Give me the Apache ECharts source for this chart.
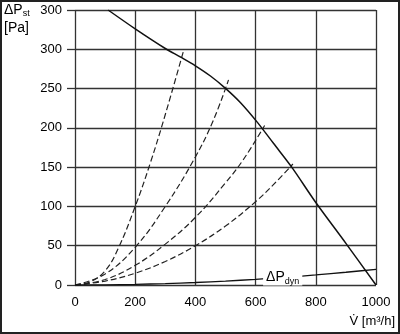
<!DOCTYPE html>
<html>
<head>
<meta charset="utf-8">
<script src="https://cdn.jsdelivr.net/npm/echarts@6/dist/echarts.min.js"></script>
<style>
  html, body { margin: 0; padding: 0; background: #fff; }
  #chart { width: 400px; height: 334px; }
</style>
</head>
<body>
<div id="chart"></div>
<script>
// Fan characteristic: static pressure vs. volume flow
var xTicks = [0, 200, 400, 600, 800, 1000];
var yTickLabels = ['0', '50', '100', '150', '200', '250', '300', '300'];

// Fan curve ΔPst [Pa] over V [m³/h]
var fanCurve = [[110, 350], [200, 326], [300, 301], [351, 290], [400, 279], [450, 266],
                [501, 250], [550, 232], [606, 207], [660, 180], [720, 150], [800, 105],
                [900, 53], [1000, 0]];

// System curves (dashed)
var system1 = [[0, 0], [50, 4], [100, 18], [143, 46], [200, 100], [250, 155], [300, 217], [362, 300]];
var system2 = [[0, 0], [100, 14], [200, 48], [300, 100], [400, 163], [460, 210], [510, 261]];
var system3 = [[0, 0], [100, 7], [200, 25], [300, 52], [400, 86], [500, 130], [560, 160], [630, 203]];
var system4 = [[0, 0], [100, 5], [200, 15], [300, 30], [400, 50], [500, 75], [600, 106], [660, 128], [724, 154]];

// Dynamic pressure
var dynCurve = [[0, 0], [100, 0.2], [200, 0.8], [300, 1.8], [400, 3.2], [500, 5], [600, 7.2],
                [690, 9.5], [800, 12.8], [900, 16.2], [1000, 20]];
var dynLabelX = 690;

var FONT = '"Liberation Sans", Arial, sans-serif';

function dashed(data) {
  return {
    type: 'line', data: data, smooth: 0.4, symbol: 'none', silent: true,
    lineStyle: { color: '#222', width: 1.2, type: [6, 3] }, z: 3
  };
}

var dynLabelPoint = dynCurve.filter(function (p) { return p[0] === dynLabelX; });

var chart = echarts.init(document.getElementById('chart'), null, { renderer: 'canvas' });
chart.setOption({
  animation: false,
  backgroundColor: '#fff',
  grid: { left: 75, right: 24, top: 10, bottom: 49 },
  xAxis: {
    type: 'value', min: 0, max: 1000, interval: 200,
    axisLine: { show: false },
    axisTick: { show: false },
    splitLine: { show: true, lineStyle: { color: '#333', width: 1.3 } },
    axisLabel: {
      margin: 11, color: '#000', fontFamily: FONT, fontSize: 13,
      formatter: function (v) { return xTicks.indexOf(v) >= 0 ? String(v) : ''; }
    }
  },
  yAxis: {
    type: 'value', min: 0, max: 350, interval: 50,
    axisLine: { show: false },
    axisTick: { show: true, length: 8, lineStyle: { color: '#333', width: 1.3 } },
    splitLine: { show: true, lineStyle: { color: '#333', width: 1.3 } },
    axisLabel: {
      margin: 13, color: '#000', fontFamily: FONT, fontSize: 13,
      formatter: function (v) { return yTickLabels[Math.round(v / 50)]; }
    }
  },
  series: [
    {
      type: 'line', data: fanCurve, smooth: 0.3, symbol: 'none', silent: true,
      lineStyle: { color: '#111', width: 1.5 }, z: 4
    },
    dashed(system1), dashed(system2), dashed(system3), dashed(system4),
    {
      type: 'line', data: dynCurve, smooth: 0.3, symbol: 'none', silent: true,
      lineStyle: { color: '#111', width: 1.3 }, z: 4
    },
    {
      // ΔPdyn label sitting on the dynamic pressure line
      type: 'scatter', data: dynLabelPoint, symbolSize: 1, silent: true, z: 6,
      itemStyle: { opacity: 0 },
      label: {
        show: true, position: 'inside', opacity: 1,
        backgroundColor: '#fff', padding: [0, 3],
        formatter: '{a|ΔP}{b|dyn}',
        rich: {
          a: { fontFamily: FONT, fontSize: 14, color: '#000' },
          b: { fontFamily: FONT, fontSize: 9, color: '#000', padding: [7, 0, 0, 0] }
        }
      }
    }
  ],
  graphic: [
    {
      type: 'rect', silent: true, z: 100,
      shape: { x: 1, y: 1, width: 398, height: 332 },
      style: { fill: 'none', stroke: '#222', lineWidth: 2 }
    },
    {
      type: 'text', left: 4, top: 3, silent: true,
      style: {
        text: '{a|ΔP}{b|st}',
        rich: {
          a: { fontFamily: FONT, fontSize: 14, fill: '#000' },
          b: { fontFamily: FONT, fontSize: 9, fill: '#000', padding: [7, 0, 0, 0] }
        }
      }
    },
    {
      type: 'text', left: 4, top: 21, silent: true,
      style: { text: '[Pa]', fontFamily: FONT, fontSize: 14, fill: '#000' }
    },
    {
      type: 'text', right: 5, top: 315, silent: true,
      style: { text: 'V\u0307 [m³/h]', fontFamily: FONT, fontSize: 13, fill: '#000' }
    }
  ]
});
</script>
</body>
</html>
